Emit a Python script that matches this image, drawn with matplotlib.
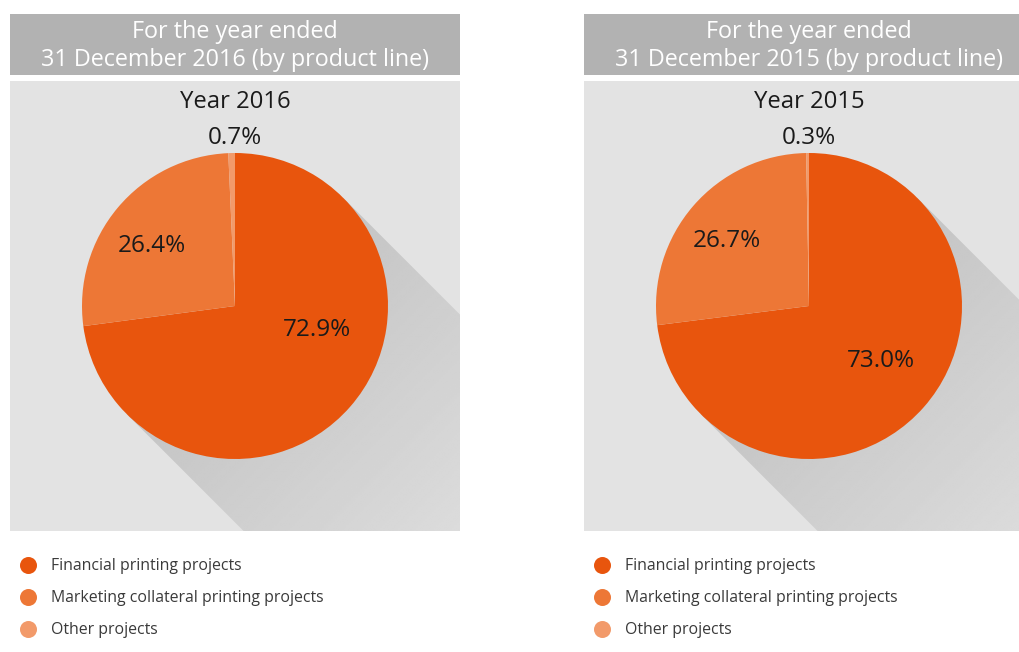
import numpy as np
import matplotlib.pyplot as plt
from matplotlib.patches import Rectangle, Polygon

plt.rcParams['font.family'] = ['Open Sans', 'DejaVu Sans']

# data
categories = ["Financial printing projects",
              "Marketing collateral printing projects",
              "Other projects"]
share_2016 = [72.9, 26.4, 0.7]
share_2015 = [73.0, 26.7, 0.3]
years = ["2016", "2015"]

colors = ['#E8550D', '#ED7736', '#F29A6A']
header_col = '#B2B2B2'
panel_col = '#E3E3E3'

W, H = 1020, 652
fig = plt.figure(figsize=(W / 100, H / 100), dpi=100)
bg = fig.add_axes([0, 0, 1, 1])
bg.set_xlim(0, W)
bg.set_ylim(H, 0)
bg.axis('off')

panels = [
    dict(x0=10, cx=235, cy=306, shares=share_2016, year=years[0],
         lab_off=[(82, 24), (-83, -60), (0, -168)]),
    dict(x0=584, cx=809, cy=306, shares=share_2015, year=years[1],
         lab_off=[(72, 55), (-82, -65), (0, -168)]),
]
R = 153
pw = 450

for p in panels:
    x0, cx, cy = p['x0'], p['cx'], p['cy']
    # header
    bg.add_patch(Rectangle((x0, 14), pw, 61, color=header_col, lw=0))
    bg.text(x0 + pw / 2, 46, "For the year ended\n31 December %s (by product line)" % p['year'],
            ha='center', va='center', color='white', fontsize=16.8, linespacing=1.22)
    # panel
    bg.add_patch(Rectangle((x0, 81), pw, 450, color=panel_col, lw=0))

    # long shadow towards bottom right
    t = R / np.sqrt(2)
    L = 700
    shadow = Polygon([(cx + t, cy - t), (cx + t + L, cy - t + L),
                      (cx - t + L, cy + t + L), (cx - t, cy + t)],
                     closed=True, facecolor='none', edgecolor='none')
    bg.add_patch(shadow)
    xs = np.linspace(x0, x0 + pw, 200)
    ys = np.linspace(81, 531, 200)
    X, Y = np.meshgrid(xs, ys)
    g = ((X - cx) + (Y - cy)) / np.sqrt(2)
    g = np.clip(g / 330, 0, 1)
    img = bg.imshow(0.765 + 0.1 * g, cmap='gray', vmin=0, vmax=1,
                    extent=(x0, x0 + pw, 531, 81), origin='upper',
                    interpolation='bilinear', aspect='auto', zorder=1)
    img.set_clip_path(shadow)

    # title
    bg.text(cx, 102, "Year " + p['year'], ha='center', va='center',
            fontsize=17.2, color='#1a1a1a', zorder=5)

    # pie
    ax = fig.add_axes([(cx - 170) / W, (H - cy - 170) / H, 340 / W, 340 / H])
    ax.pie(p['shares'], radius=R, startangle=90, counterclock=False,
           colors=colors, wedgeprops=dict(linewidth=0))
    ax.set_xlim(-170, 170)
    ax.set_ylim(-170, 170)
    ax.axis('off')
    for v, (dx, dy) in zip(p['shares'], p['lab_off']):
        ax.text(dx, -dy, "%.1f%%" % v, ha='center', va='center',
                fontsize=17.5, color='#1a1a1a')

    # legend
    for i, (c, name) in enumerate(zip(colors, categories)):
        y = 565 + 32 * i
        bg.scatter([x0 + 18], [y], s=150, color=c, lw=0, zorder=5)
        bg.text(x0 + 41, y + 1.5, name, ha='left', va='center', fontsize=11.4,
                color='#3a3a3a')

plt.savefig("out.png", dpi=100)
